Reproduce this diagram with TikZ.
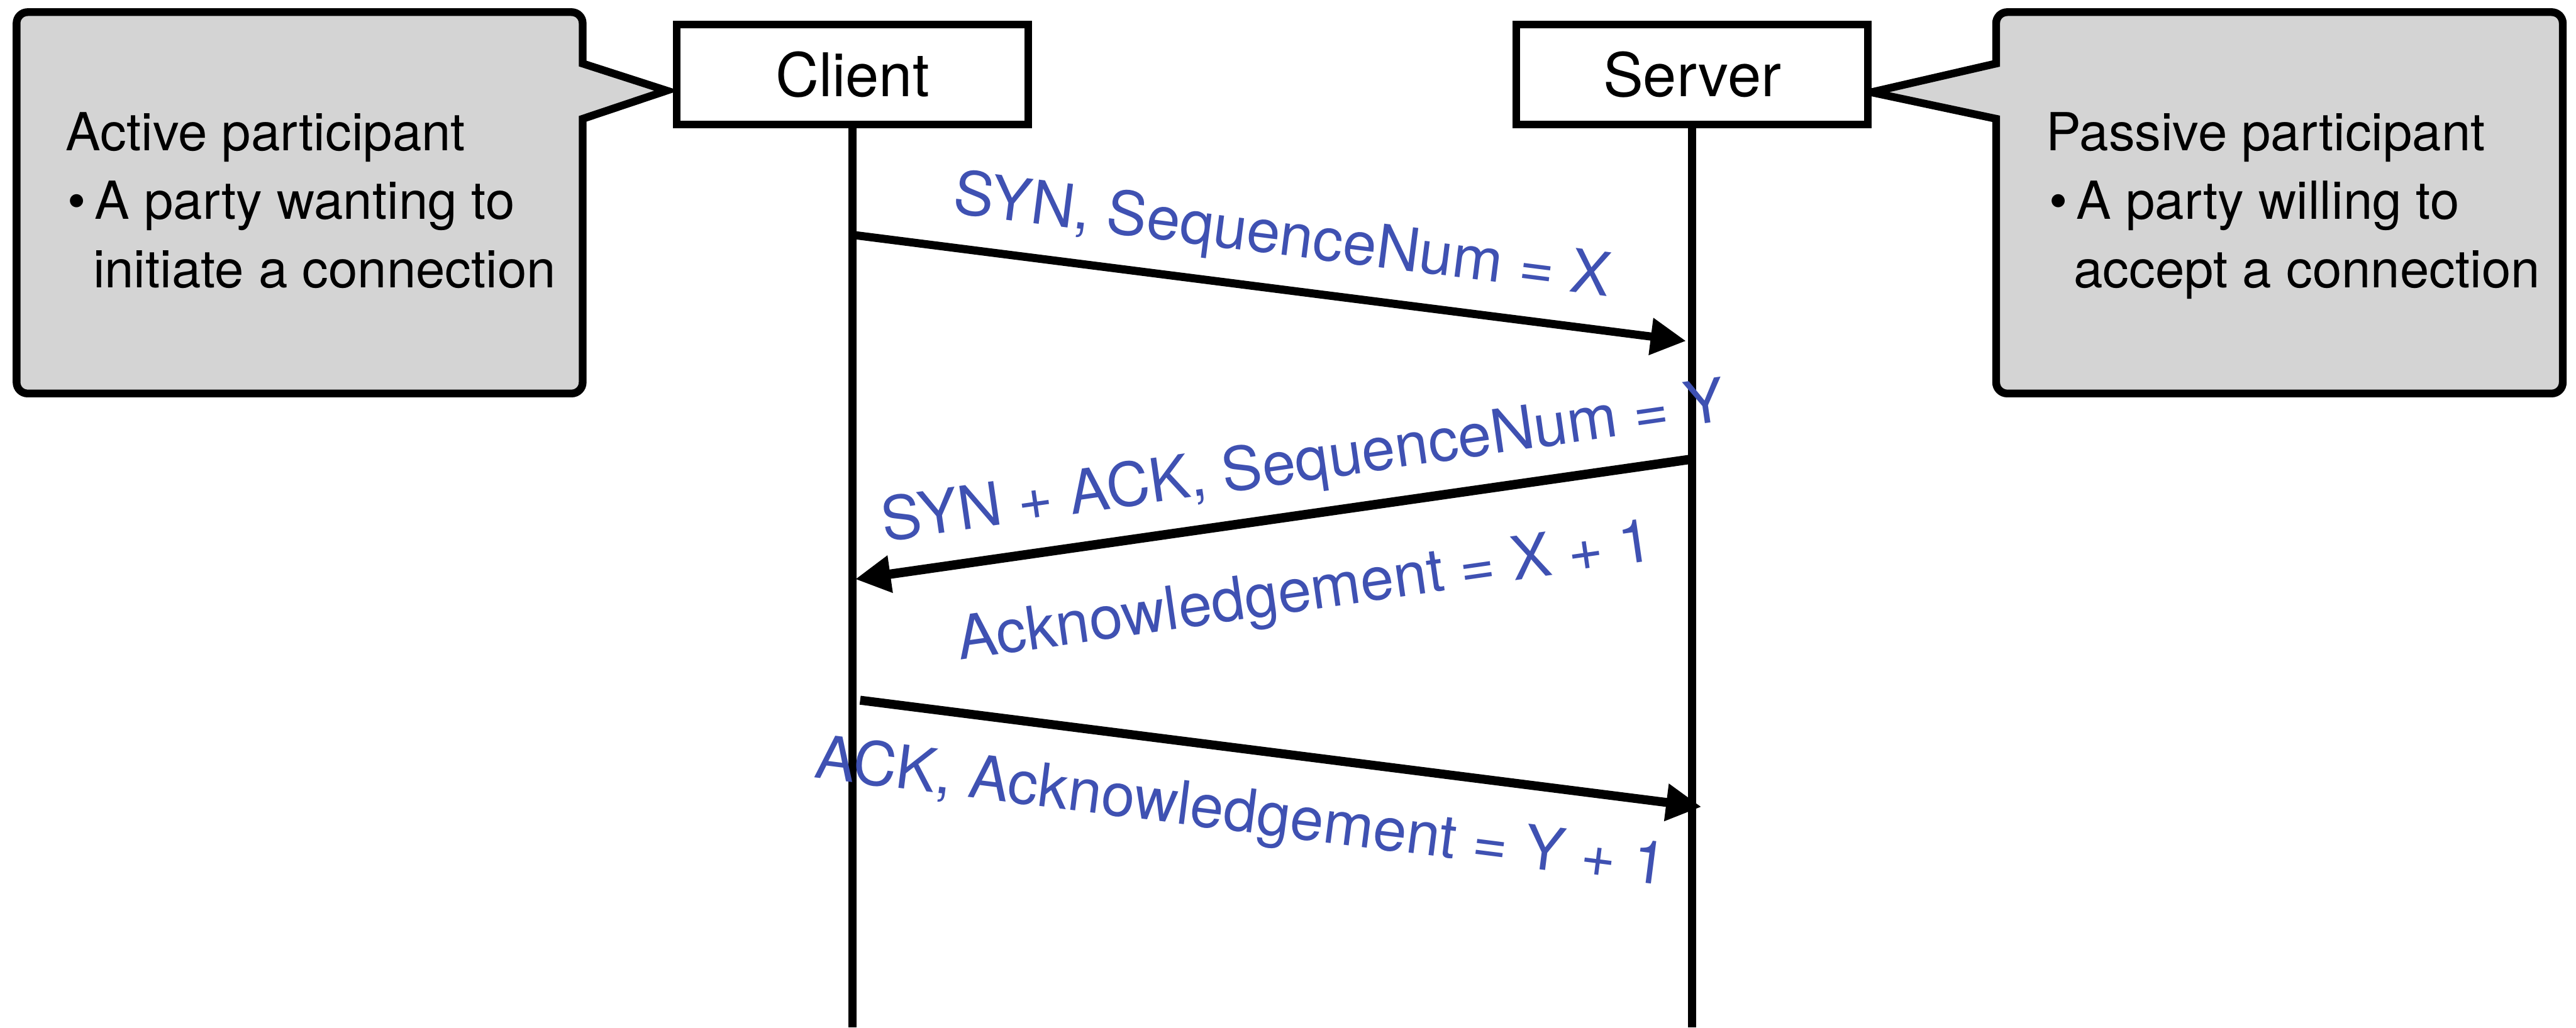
\documentclass[tikz,border=0pt]{standalone}
\usepackage{fontspec}
\setmainfont{TeX Gyre Heros}
\usetikzlibrary{arrows.meta}
\definecolor{notegray}{HTML}{D4D4D4}
\definecolor{msgblue}{HTML}{3F51B2}

\begin{document}
\begin{tikzpicture}[>={Triangle[length=.32cm,width=.32cm]},line join=miter,
  party/.style={draw,fill=white,line width=1.9pt,minimum width=3.18cm,minimum height=.905cm,inner sep=0pt,font=\fontsize{15.5}{18}\selectfont},
  lifeline/.style={line width=2.1pt},
  note/.style={inner sep=0pt,anchor=base west,font=\fontsize{13.5}{16}\selectfont},
  msg/.style={line width=2.1pt},
  msglabel/.style={sloped,inner sep=0pt,text=msgblue,font=\fontsize{15.5}{18}\selectfont}]
\useasboundingbox (0,0) rectangle (23.3,9.295);
\draw[fill=notegray,line width=2pt] (5.27,8.22) -- (6.03,8.475) -- (5.27,8.72) [rounded corners=.1cm] -- (5.27,9.185) -- (.15,9.185) -- (.15,5.735) -- (5.27,5.735) -- (5.27,7) [sharp corners] -- cycle;
\draw[fill=notegray,line width=2pt] (18.055,8.72) -- (16.925,8.46) -- (18.055,8.22) [rounded corners=.1cm] -- (18.055,5.735) -- (23.18,5.735) -- (23.18,9.185) -- (18.055,9.185) -- (18.055,9) [sharp corners] -- cycle;
\node[note] (activeTitle) at (.59,7.935) {Active participant};
\node[note] (activeItem) at (.605,7.31) {\textbullet\,A party wanting to};
\node[note] (activeMore) at (.835,6.69) {initiate a connection};
\node[note] (passiveTitle) at (18.5,7.935) {Passive participant};
\node[note] (passiveItem) at (18.53,7.31) {\textbullet\,A party willing to};
\node[note] (passiveMore) at (18.75,6.69) {accept a connection};
\node[party] (client) at (7.71,8.62) {Client};
\node[party] (server) at (15.305,8.62) {Server};
\coordinate (clientEnd) at (7.71,0);
\coordinate (serverEnd) at (15.305,0);
\draw[lifeline] (client) -- (clientEnd);
\draw[lifeline] (server) -- (serverEnd);
\coordinate (synOut) at (7.71,7.17);
\coordinate (synIn) at (15.25,6.21);
\coordinate (synackIn) at (7.735,4.055);
\coordinate (synackOut) at (15.295,5.14);
\coordinate (ackOut) at (7.78,2.96);
\coordinate (ackIn) at (15.39,1.995);
\draw[msg,->] (synOut) -- node[msglabel,pos=.508,above=.155cm] {SYN, SequenceNum = X} (synIn);
\draw[msg,<-,line width=2.4pt] (synackIn) -- node[msglabel,pos=.545,above=.14cm] {SYN + ACK, SequenceNum = Y}
  node[msglabel,pos=.525,below=.42cm] {Acknowledgement = X + 1} (synackOut);
\draw[msg,->,line width=2.3pt] (ackOut) -- node[msglabel,pos=.462,below=.3cm] {ACK, Acknowledgement = Y + 1} (ackIn);
\end{tikzpicture}
\end{document}
